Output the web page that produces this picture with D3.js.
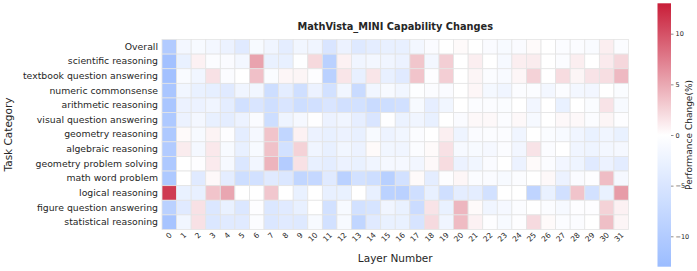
<!DOCTYPE html>
<html>
<head>
<meta charset="utf-8">
<script src="https://cdn.jsdelivr.net/npm/d3@7"></script>
<style>
  body { margin: 0; background: #fff; }
  text { font-family: 'DejaVu Sans', sans-serif; fill: #262626; }
</style>
</head>
<body>
<div id="chart-area"></div>
<script>
const categories = [
    'Overall', 'scientific reasoning', 'textbook question answering', 'numeric commonsense',
    'arithmetic reasoning', 'visual question answering', 'geometry reasoning', 'algebraic reasoning',
    'geometry problem solving', 'math word problem', 'logical reasoning',
    'figure question answering', 'statistical reasoning'
]

const layers = d3.range(32)

const colorTicks = [-10, -5, 0, 5, 10]

// one array per task category, 32 layers each
const overall = [-10, -1.5, -1, -1.5, -2.5, -4, -1, -2, -3.5, -1.8, -2, -5, -2.5, -4.3, -3.5, -3,
    -3, -1.5, -0.7, 0, 0.3, 0, -0.7, -1, -0.7, 0.3, 0, -0.5, -0.5, -0.8, 1, -0.5]
const scientific = [-12, -2.8, 0.8, -0.5, -0.7, -1.5, 5.3, -2.8, -3, -0.2, 2.2, -9, 0.8, -2, -1.5, -2,
    -2.5, 3.3, -1.6, 2.8, 0, 1, 0, -1.2, 1, 1.1, 0, -0.5, 1, 0, 1.2, 2.3]
const textbook = [-12, -0.8, -1.8, 1.7, -0.5, 0, 3.6, -0.6, 0.5, 0.6, -0.3, -9, 1.5, -3, 1.5, -3,
    -4, 3.4, -0.3, 2.8, 0, 0.6, -0.5, -0.9, 0.5, 2.6, 0, 2, 0.6, 1.6, 1.9, 4]
const numeric = [-11, -1.8, -2.8, -3.2, -4, -2, -1.8, -6.5, -3.5, -6.2, -2.5, -5.8, -1.8, -7, -1.8, -1,
    -1.8, -0.2, -0.5, -0.7, 0, 0.5, -1.4, -2, -0.5, -0.5, -1.6, -0.5, -1.6, -1.7, 0, -0.6]
const arithmetic = [-11, -2.5, -2.5, -2, -3.5, -6, -5, -6.2, -5, -6.5, -6, -5, -6, -5.8, -7, -6.5,
    -6, -1, -3.3, -1.8, 0, -0.5, -0.5, -0.6, 0, -1.7, 0, -2.8, 0, -0.6, 1.6, -1]
const visual = [-10.5, -2.5, -1.5, -3, -3.5, -2.5, -0.7, -6.5, -2.2, -1.3, -0.1, -2.5, -2, -3.3, -5, -0.1,
    -2.6, -2, -3, 0, -0.7, 0.4, 0.4, -0.5, 0.4, -1.2, 0, 0.4, 0.4, -0.5, 0.6, -0.3]
const geometryReasoning = [-10.5, 0.3, -1, 0.7, -0.3, -3.5, -1.3, 3.4, -8, 0.8, -2.5, -3, -2.5, -3, -1, -2.3,
    -1.8, -0.5, 0, 0.9, -2.2, -0.7, -0.5, -0.5, -2, 0, -0.6, -1, -2, -2.8, -2, -2.8]
const algebraic = [-10, 1.1, -1.4, 1.3, -1, -3, -1, 3.5, -5.8, 2.6, -2, -3, -1.8, -2.5, 0.3, -1.8,
    -2, -0.5, 0.3, 1.7, -1.2, -1, -1.3, -0.5, -1.7, 1.6, -0.5, 0, -2, -2.2, -1.6, -1.3]
const geometrySolving = [-10.5, 0, -0.3, 1.2, -1.2, -4.7, -1.7, 4.3, -9.8, 1.7, -3, -3.5, -2.5, -2.8, -2, -1.3,
    -1.3, -1.7, 0.4, 2, -2.5, -1.8, -0.7, 0, -2.5, 0.3, -0.5, -1.7, -2.2, -4, -2.5, -3.7]
const mathWord = [-10.5, 0, -4, 0.4, -3.5, -6.5, -5.8, -4, -4.7, -8, -7.5, -4, -9, -5.8, -6.5, -9.2,
    -5.8, 0.3, -3.5, -0.3, 0.5, -0.5, -0.7, -1, -0.5, 0, 0.4, -2.5, -0.7, -0.3, 3.8, -1.3]
const logical = [11.3, -2.8, -3, 3.4, 5.1, 0, 0, 3.2, 0, -2.8, 0, -3, -2.8, 0, -3, -8.8,
    -9, -6.2, -3, -6.2, -3.5, -3.5, -5.8, 0, 0, -8.3, -2.8, -6, 3.4, -5.8, -2.8, 5.7]
const figureQA = [-9, -4, 1.7, -4.7, -2.8, -4.7, -0.3, -4.7, -4, -3, 0, -5.8, -1, -5.8, -5.3, -2,
    -2.8, -6.8, 1.6, -2.8, 4.2, 0.3, -2, -1.3, -0.5, 0, -0.5, -1.2, -0.3, -0.3, 2.6, 0.8]
const statistical = [-11.5, -1.8, 1.7, -4.7, -4, -4, -0.5, -4.7, -4, -4.3, -1, -5.8, -1, -8, -4, -2.8,
    -2.8, -5.2, 2.1, -2, 3.9, 0.8, -0.3, -1, -0.3, 2.1, 0.3, -0.5, -0.5, 0, 3.7, 0.6]

const rows = [overall, scientific, textbook, numeric, arithmetic, visual, geometryReasoning,
    algebraic, geometrySolving, mathWord, logical, figureQA, statistical]

const cells = []
rows.forEach((vals, i) => vals.forEach((v, j) => cells.push({ cat: categories[i], layer: layers[j], value: v })))

const W = 697
const H = 271
const margin = { top: 39.5, left: 162, right: 68.5, bottom: 41.5 }
const width = W - margin.left - margin.right
const height = H - margin.top - margin.bottom

const svg = d3.select('#chart-area')
              .append('svg')
              .attr('width', W)
              .attr('height', H)

const g = svg.append('g')
             .attr('transform', 'translate(' + margin.left + ',' + margin.top + ')')

const x = d3.scaleBand().domain(layers).range([0, width])
const y = d3.scaleBand().domain(categories).range([0, height])

const color = d3.scaleLinear()
                .domain([-13, 0, 13])
                .range(['#9bbcff', '#ffffff', '#c81d38'])
                .clamp(true)

g.selectAll('rect.cell')
 .data(cells)
 .enter()
 .append('rect')
 .attr('class', 'cell')
 .attr('x', d => x(d.layer))
 .attr('y', d => y(d.cat))
 .attr('width', x.bandwidth())
 .attr('height', y.bandwidth())
 .attr('fill', d => color(d.value))
 .attr('stroke', '#e4e4e4')
 .attr('stroke-width', 0.8)

// y axis labels
const yAxis = g.append('g')
               .call(d3.axisLeft(y).tickSize(0).tickPadding(4))
yAxis.select('.domain').remove()
yAxis.selectAll('text')
     .attr('font-size', '9.3px')
     .style('font-family', 'DejaVu Sans, sans-serif')
     .attr('fill', '#262626')

// x axis labels, rotated
const xAxis = g.append('g')
               .attr('transform', 'translate(0,' + height + ')')
               .call(d3.axisBottom(x).tickSize(0).tickPadding(0))
xAxis.select('.domain').remove()
xAxis.selectAll('text')
     .attr('font-size', '7.5px')
     .style('font-family', 'DejaVu Sans, sans-serif')
     .attr('fill', '#262626')
     .attr('text-anchor', 'end')
     .attr('dy', 0)
     .attr('y', 0)
     .attr('transform', 'translate(3,6) rotate(-45)')

svg.append('text')
   .attr('x', margin.left + width / 2)
   .attr('y', 30)
   .attr('text-anchor', 'middle')
   .attr('font-size', '9.8px')
   .attr('font-weight', 'bold')
   .text('MathVista_MINI Capability Changes')

svg.append('text')
   .attr('x', margin.left + width / 2)
   .attr('y', 262)
   .attr('text-anchor', 'middle')
   .attr('font-size', '10.5px')
   .text('Layer Number')

svg.append('text')
   .attr('transform', 'translate(12,' + (margin.top + height / 2) + ') rotate(-90)')
   .attr('text-anchor', 'middle')
   .attr('font-size', '10.5px')
   .text('Task Category')

// colorbar
const cbX = 657.5
const cbW = 13.5
const cbTop = 3.3
const cbBottom = 266.7
const cbScale = d3.scaleLinear().domain([-13, 13]).range([cbBottom, cbTop])

const defs = svg.append('defs')
const grad = defs.append('linearGradient')
                 .attr('id', 'cb-grad')
                 .attr('x1', 0).attr('y1', 1)
                 .attr('x2', 0).attr('y2', 0)
d3.range(0, 1.0001, 0.05).forEach(t => {
    grad.append('stop')
        .attr('offset', t)
        .attr('stop-color', color(-13 + 26 * t))
})

svg.append('rect')
   .attr('x', cbX)
   .attr('y', cbTop)
   .attr('width', cbW)
   .attr('height', cbBottom - cbTop)
   .attr('fill', 'url(#cb-grad)')

const cbAxis = svg.append('g')
                  .attr('transform', 'translate(' + (cbX + cbW) + ',0)')
                  .call(d3.axisRight(cbScale).tickValues(colorTicks).tickSize(2.5).tickPadding(2)
                          .tickFormat(d => d < 0 ? '\u2212' + Math.abs(d) : d))
cbAxis.select('.domain').remove()
cbAxis.selectAll('line').attr('stroke', '#444').attr('stroke-width', 0.6)
cbAxis.selectAll('text')
      .attr('font-size', '6.5px')
      .style('font-family', 'DejaVu Sans, sans-serif')
      .attr('fill', '#333')

svg.append('text')
   .attr('transform', 'translate(692,' + cbScale(0) + ') rotate(-90)')
   .attr('text-anchor', 'middle')
   .attr('font-size', '9px')
   .text('Performance Change(%)')
</script>
</body>
</html>
